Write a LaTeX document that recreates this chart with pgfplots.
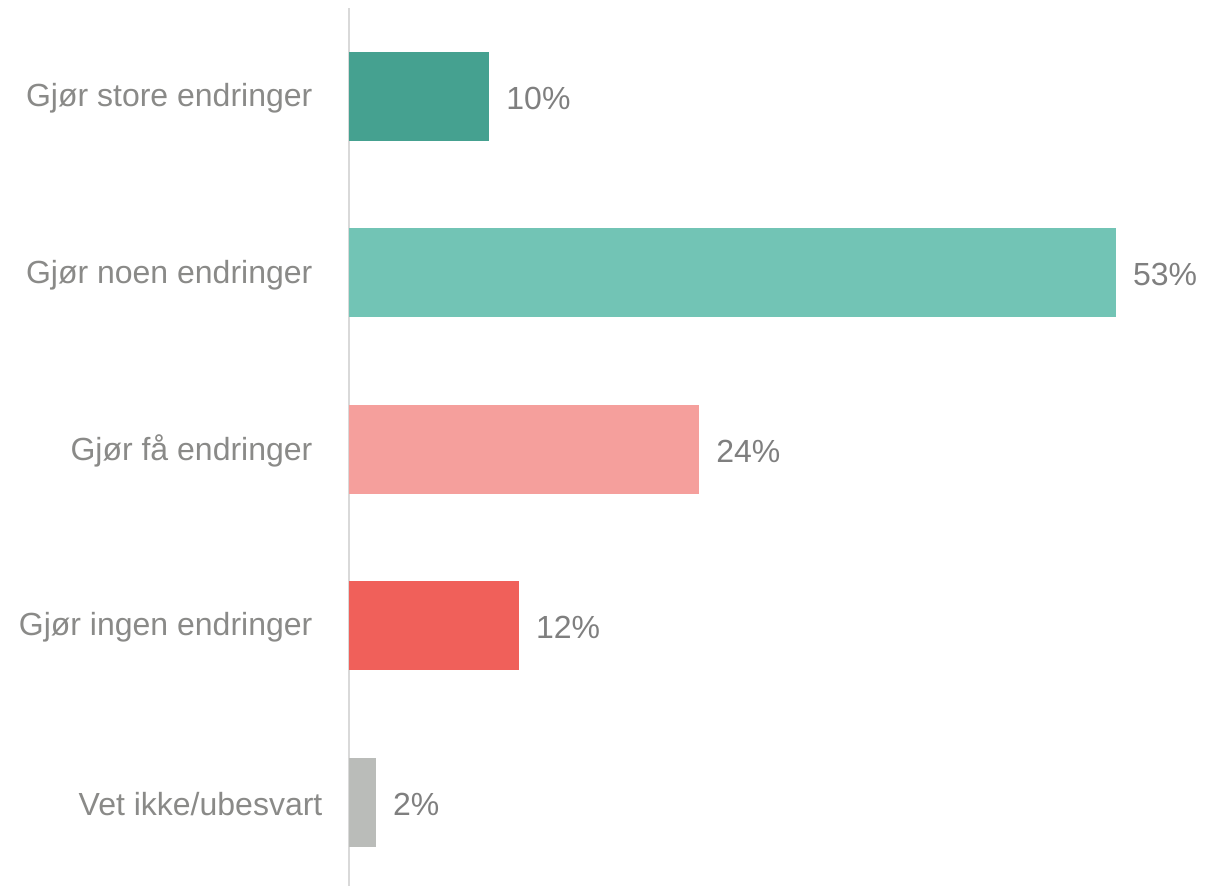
\documentclass[border=0pt]{standalone}
\usepackage{fontspec}
\setmainfont{Liberation Sans}
\usepackage{pgfplots}
\pgfplotsset{compat=1.18}
\definecolor{tealdark}{HTML}{45A190}
\definecolor{teallight}{HTML}{72C4B5}
\definecolor{pinklight}{HTML}{F59F9C}
\definecolor{redbar}{HTML}{F0605A}
\definecolor{graybar}{HTML}{BABCB9}
\definecolor{labelgray}{HTML}{8A8A88}
\definecolor{valuegray}{HTML}{7F7F7F}
\definecolor{axisgray}{HTML}{D9D9D9}

\begin{document}
\begin{tikzpicture}
\begin{axis}[
    scale only axis,
    width=436.5pt, height=439pt,
    xmin=0, xmax=60.32,
    ymin=-0.502, ymax=4.476,
    y dir=reverse,
    axis x line=none,
    axis y line*=left,
    y axis line style={draw=axisgray, line width=1pt, -},
    ytick={0,1,2,3,4},
    yticklabels={Gjør store endringer\kern5pt,Gjør noen endringer\kern5pt,Gjør få endringer\kern5pt,Gjør ingen endringer\kern5pt,Vet ikke/ubesvart},
    ytick style={draw=none},
    yticklabel style={font=\fontsize{16}{19}\selectfont, text=labelgray, anchor=east, xshift=-5.5pt, yshift=-1pt},
    clip=false,
    xbar,
    bar width=44.5pt,
    every axis plot/.append style={bar shift=0pt, draw=none},
    point meta=x,
    /pgf/number format/assume math mode=true,
    nodes near coords={\pgfmathprintnumber[fixed,precision=0,assume math mode=true]{\pgfplotspointmeta}\%},
    nodes near coords style={font=\fontsize{16}{19}\selectfont, text=valuegray, anchor=west, xshift=5pt, yshift=-1pt},
]
\addplot[fill=tealdark] coordinates {(9.7,0)};
\addplot[fill=teallight] coordinates {(53,1)};
\addplot[fill=pinklight] coordinates {(24.2,2)};
\addplot[fill=redbar] coordinates {(11.75,3)};
\addplot[fill=graybar] coordinates {(1.87,4)};
\end{axis}
\pgfresetboundingbox
\path[use as bounding box] ([xshift=-174.5pt]current axis.south west) rectangle ([yshift=4pt]current axis.north east);
\end{tikzpicture}
\end{document}
